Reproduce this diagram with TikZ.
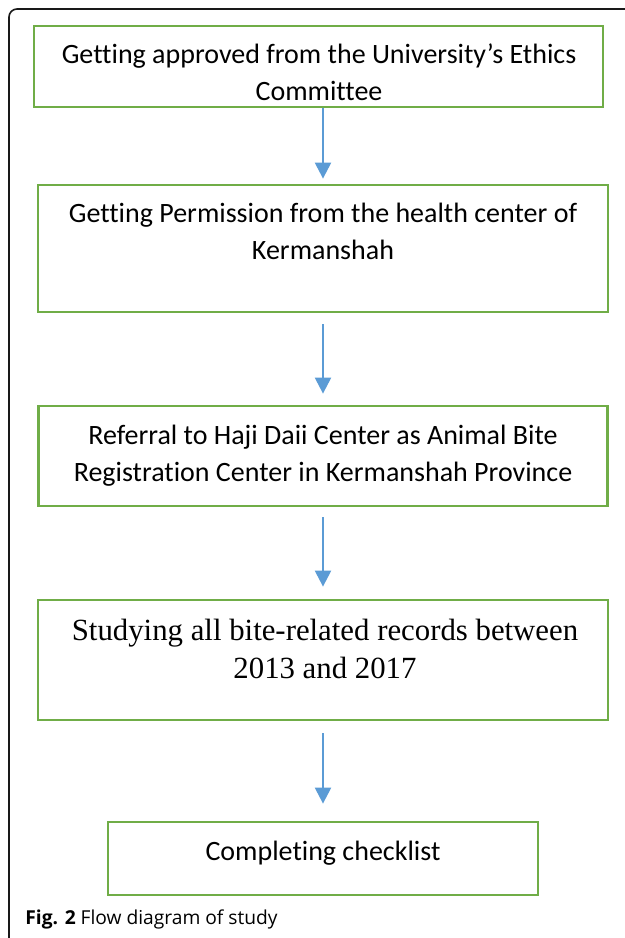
\documentclass[tikz,border=0pt]{standalone}
\usepackage{fontspec}
\setmainfont{Carlito}[Ligatures=NoCommon]
\newfontfamily\timesfont{Liberation Serif}
\newfontfamily\capfont{Open Sans}
\usetikzlibrary{arrows.meta}
\definecolor{stepgreen}{HTML}{70AD47}
\definecolor{flowblue}{HTML}{5B9BD5}
\tikzset{
  stepbox/.style={draw=stepgreen, line width=1.4pt, inner sep=0pt},
  steptext/.style={anchor=base, align=center, inner sep=0pt, font=\fontsize{14}{18.5}\selectfont},
  flow/.style={draw=flowblue, line width=1.15pt, -{Triangle[length=8pt,width=8pt]}},
}
\begin{document}
\begin{tikzpicture}[x=0.5pt, y=-0.5pt]
  \useasboundingbox (0,0) rectangle (625,938);
  % frame of the figure
  \draw[line width=0.8pt, black!90, rounded corners=4pt] (640,9) -- (9,9) -- (9,950);
  % steps
  \node[stepbox, minimum width=284.5pt, minimum height=40.5pt] (Ethics) at (318.5,66.5) {};
  \node[stepbox, minimum width=285pt, minimum height=63.5pt] (Permission) at (323,248.5) {};
  \node[stepbox, minimum width=284.5pt, minimum height=50pt] (Referral) at (323,456) {};
  \node[stepbox, minimum width=285pt, minimum height=60pt] (Records) at (323,660) {};
  \node[stepbox, minimum width=215pt, minimum height=36.5pt] (Checklist) at (323,858.5) {};
  % texts (base = last line)
  \node[steptext] (Ethics-txt) at (319,100) {Getting approved from the University’s Ethics\\Committee};
  \node[steptext] (Permission-txt) at (323,259) {Getting Permission from the health center of\\Kermanshah};
  \node[steptext] (Referral-txt) at (323,481) {Referral to Haji Daii Center as Animal Bite\\Registration Center in Kermanshah Province};
  \node[steptext, font=\timesfont\fontsize{15.4}{19}\selectfont] (Records-txt) at (325,678) {Studying all bite-related records between\\2013 and 2017};
  \node[steptext] (Checklist-txt) at (323,860) {Completing checklist};
  % arrows
  \draw[flow, shorten >=2.5pt] (Ethics.south -| Permission.north) -- (Permission.north);
  \draw[flow, shorten <=5.5pt, shorten >=5.5pt] (Permission.south) -- (Referral.north);
  \draw[flow, shorten <=5pt, shorten >=6pt] (Referral.south) -- (Records.north);
  \draw[flow, shorten <=6pt, shorten >=8.5pt] (Records.south) -- (Checklist.north);
  % caption
  \node[anchor=base west, inner sep=0pt, font=\capfont\fontsize{9.6}{11}\selectfont] (caption) at (25,924) {\textbf{Fig. 2} Flow diagram of study};
\end{tikzpicture}
\end{document}
